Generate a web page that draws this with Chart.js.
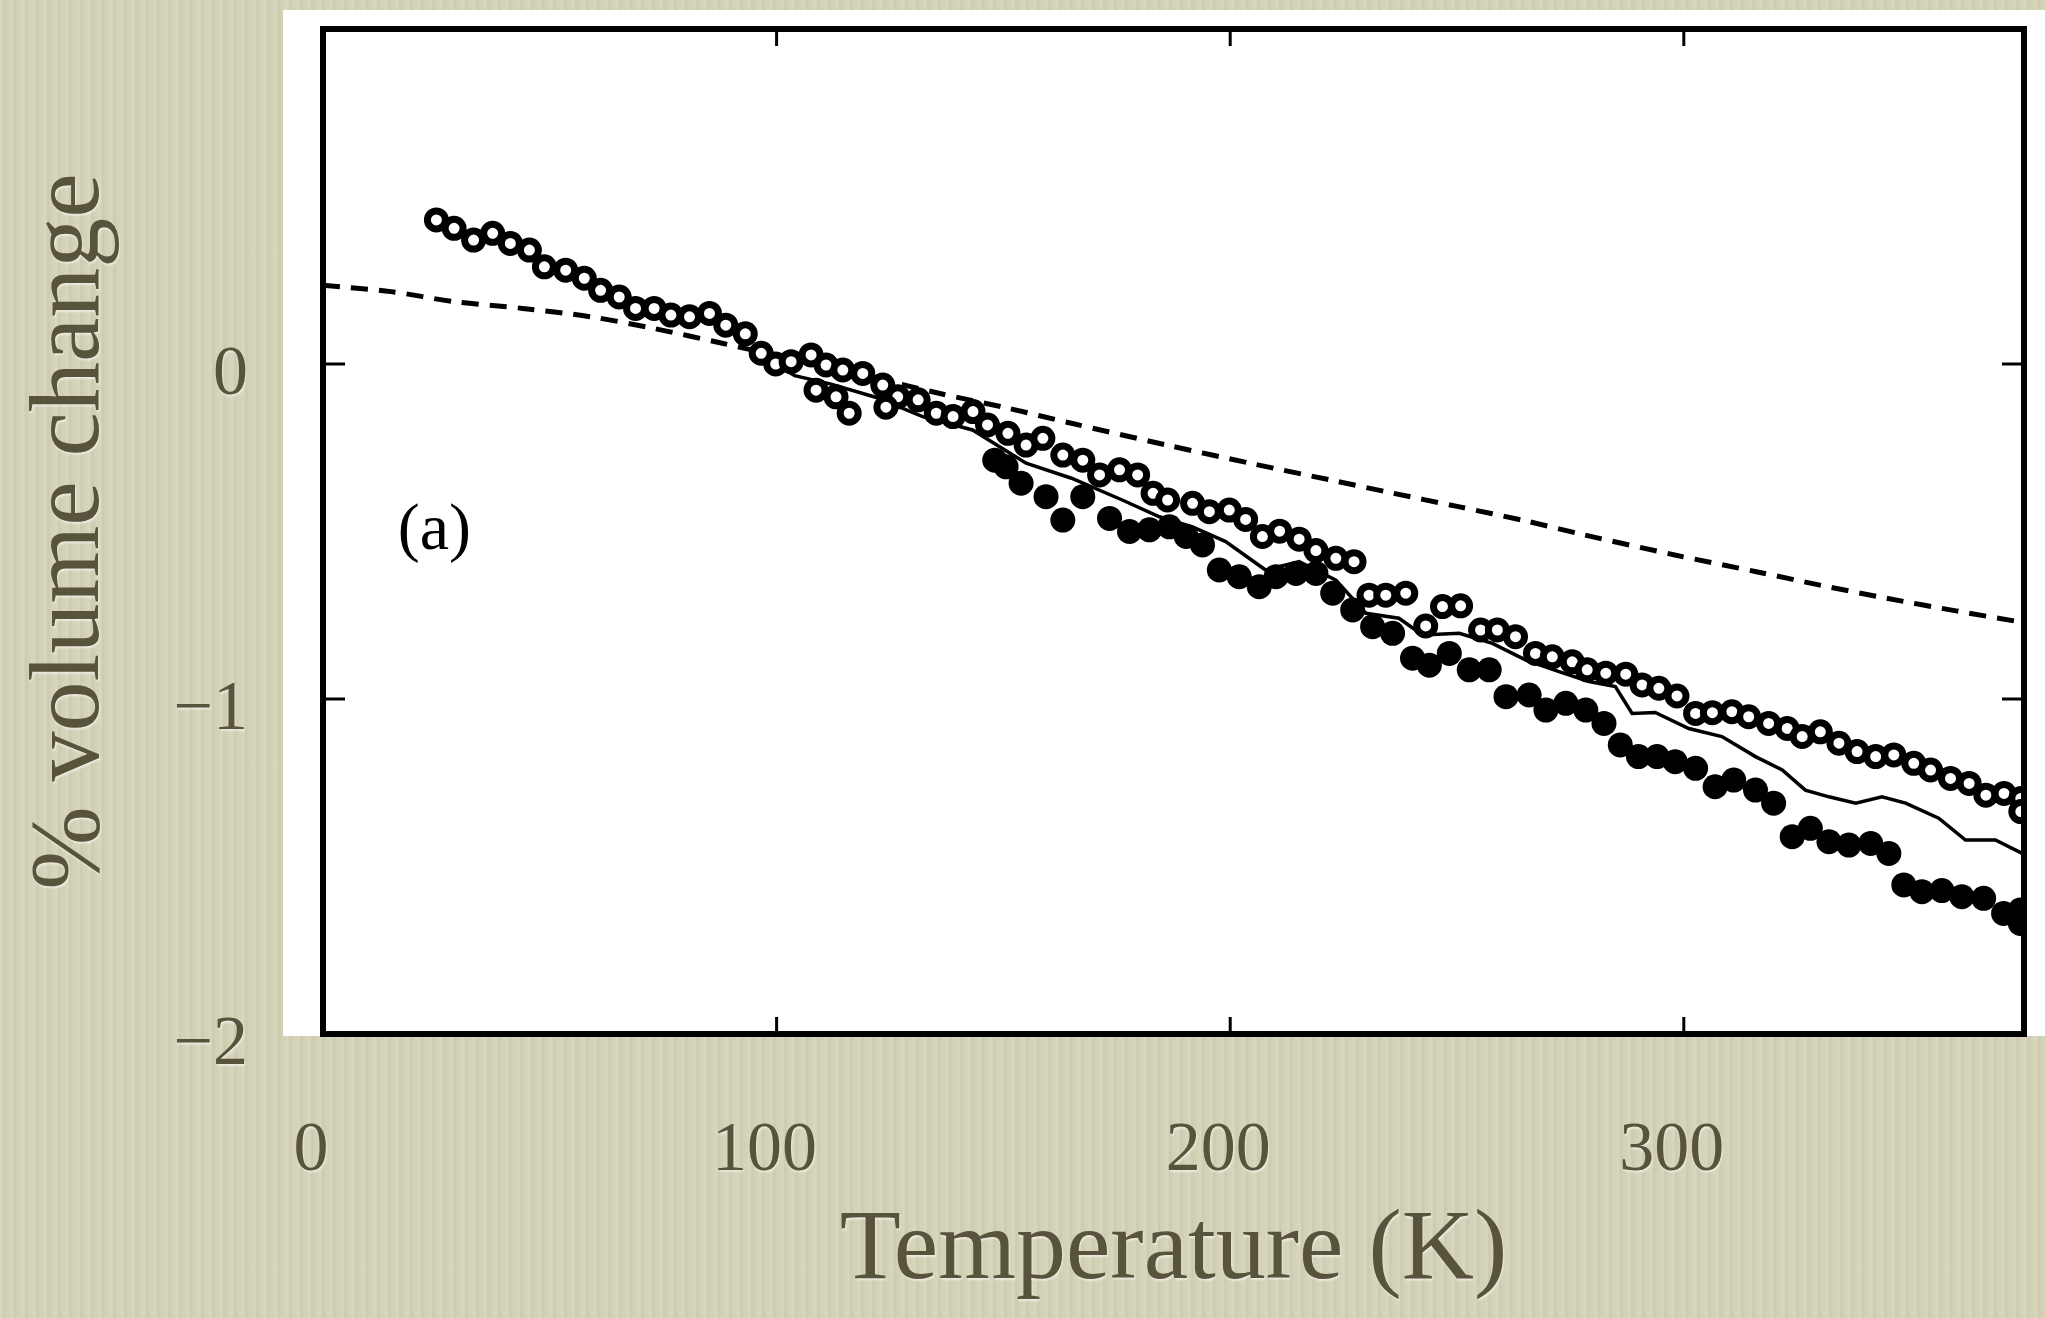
<!DOCTYPE html>
<html>
<head>
<meta charset="utf-8">
<script src="https://cdn.jsdelivr.net/npm/chart.js@4.4.1/dist/chart.umd.min.js"></script>
<style>
	html, body { margin: 0; padding: 0; }
	body {
		width: 2045px;
		height: 1318px;
		overflow: hidden;
		background-color: #d3d2b6;
		background-image: repeating-linear-gradient(90deg, rgba(255,255,255,0.10) 0px, rgba(255,255,255,0.10) 2px, rgba(0,0,0,0.035) 4px, rgba(0,0,0,0) 7px, rgba(255,255,255,0.06) 11px);
	}
	canvas { display: block; }
</style>
</head>
<body>
<canvas id="cntx_volume" width="2045" height="1318"></canvas>
<script>
// open circles
const tempOpen = [25, 28.9, 33.2, 37.4, 41.3, 45.5, 48.8, 53.5, 57.6, 61.2, 65.3, 68.9, 73, 76.7, 80.8, 85.2, 88.8, 93.1,
	96.6, 99.8, 103.2, 107.6, 110.9, 114.6, 119, 123.4, 126.7, 131.2, 135.2, 138.9, 143.3, 146.5, 151, 155, 158.7, 163.1,
	167.5, 171.2, 175.6, 179.6, 183, 186.2, 191.7, 195.4, 199.8, 203.4, 207.1, 210.9, 215.2, 218.9, 223.3, 227.3, 230.6,
	234.3, 238.7, 243.1, 246.8, 250.8, 255.2, 258.9, 262.9, 267.3, 271, 275.4, 278.7, 282.8, 287.2, 290.8, 294.5, 298.5,
	302.6, 306.3, 310.6, 314.3, 318.7, 322.8, 326.1, 330.1, 334.2, 338.2, 342.3, 346.3, 350.7, 354.4, 358.8, 362.9, 366.6,
	370.6, 374.3, 374.3,
	108.7, 113.1, 116, 124.1];
const volOpen = [0.43, 0.405, 0.37, 0.39, 0.36, 0.34, 0.29, 0.28, 0.256, 0.22, 0.2, 0.166, 0.166, 0.146, 0.141, 0.151, 0.116, 0.09,
	0.032, 0.0, 0.007, 0.027, -0.003, -0.018, -0.028, -0.063, -0.098, -0.107, -0.147, -0.157, -0.142, -0.182, -0.207, -0.242, -0.222, -0.272,
	-0.287, -0.331, -0.316, -0.331, -0.386, -0.406, -0.416, -0.441, -0.436, -0.464, -0.515, -0.499, -0.523, -0.557, -0.58, -0.59, -0.69,
	-0.69, -0.684, -0.782, -0.724, -0.722, -0.794, -0.794, -0.814, -0.864, -0.874, -0.889, -0.913, -0.923, -0.926, -0.958, -0.968, -0.991,
	-1.043, -1.041, -1.038, -1.053, -1.073, -1.088, -1.112, -1.098, -1.132, -1.157, -1.172, -1.167, -1.192, -1.212, -1.237, -1.252, -1.287,
	-1.282, -1.297, -1.336,
	-0.078, -0.098, -0.147, -0.129];

// filled circles
const tempFilled = [148.1, 150.6, 153.9, 159.4, 163.1, 167.5, 173.4, 177.8, 182.2, 186.6, 190.3, 193.9, 197.6, 202, 206.4, 210.1,
	214.5, 218.9, 222.6, 227, 231.4, 235.8, 240.2, 243.9, 248.3, 252.7, 257.1, 260.8, 265.9, 269.6, 274, 278.4, 282.4, 286, 290,
	294.1, 298.1, 302.6, 306.9, 311, 315.8, 319.8, 323.9, 327.9, 332, 336.4, 341.2, 345.2, 348.5, 352.5, 356.9, 361.3, 366.1,
	370.5, 374.2, 374.2];
const volFilled = [-0.287, -0.307, -0.356, -0.396, -0.466, -0.396, -0.461, -0.5, -0.495, -0.486, -0.515, -0.54, -0.615, -0.635, -0.665, -0.635,
	-0.625, -0.625, -0.684, -0.734, -0.784, -0.804, -0.878, -0.899, -0.864, -0.913, -0.913, -0.993, -0.988, -1.033, -1.013, -1.033, -1.073, -1.137, -1.172,
	-1.172, -1.187, -1.207, -1.262, -1.242, -1.272, -1.311, -1.411, -1.386, -1.426, -1.436, -1.431, -1.461, -1.555, -1.575, -1.572, -1.59, -1.595,
	-1.64, -1.63, -1.67];

// solid line
const tempSolid = [97, 104, 112, 122, 132.2, 143.2, 155, 165, 176.2, 184.4, 191.7, 199, 207.8, 215.2, 223.3, 229.9, 237.2, 242.4,
	250.5, 257.8, 265.2, 272.5, 279.1, 284.9, 288.6, 293.7, 301.1, 308.4, 315.8, 321.7, 326.8, 332, 337.9, 343.7, 348.9, 356.2,
	362.1, 368.7, 374.6];
const volSolid = [0.02, -0.035, -0.06, -0.1, -0.157, -0.197, -0.296, -0.341, -0.406, -0.456, -0.486, -0.53, -0.615, -0.59, -0.645, -0.744, -0.759, -0.809,
	-0.804, -0.834, -0.884, -0.918, -0.948, -0.963, -1.043, -1.04, -1.088, -1.112, -1.172, -1.212, -1.272, -1.292, -1.311, -1.292, -1.311, -1.356,
	-1.421, -1.421, -1.461];

// dashed line
const tempDashed = [0, 15, 29, 44, 59, 73, 88, 100, 118, 136, 151, 165, 186, 205, 222, 236, 250, 265, 278, 298, 316, 330, 345, 360, 375];
const volDashed = [0.235, 0.216, 0.186, 0.166, 0.141, 0.106, 0.062, 0.025, -0.03, -0.088, -0.132, -0.177, -0.242, -0.298, -0.346, -0.386,
	-0.425, -0.468, -0.51, -0.57, -0.62, -0.66, -0.7, -0.737, -0.772];

const xTickValues = [0, 100, 200, 300];
const yTickValues = [-2, -1, 0, 1];

const textColor = "#58533b";
const serif = "'Liberation Serif', 'DejaVu Serif', serif";

toPoints = (xs, ys) => xs.map((x, i) => ({ x: x, y: ys[i] }));

const framePlugin = {
	id: "frame",
	beforeDraw: (chart) => {
		const { ctx, chartArea } = chart;
		ctx.save();
		ctx.fillStyle = "#ffffff";
		ctx.fillRect(chartArea.left - 40, chartArea.top - 19, chart.width - chartArea.left + 40, chartArea.bottom - chartArea.top + 21);
		ctx.restore();
		// soft light shadow under the slide text
		ctx.shadowColor = "rgba(255,255,255,0.55)";
		ctx.shadowOffsetX = 1;
		ctx.shadowOffsetY = 2;
		ctx.shadowBlur = 2;
	},
	beforeDatasetsDraw: (chart) => {
		const ctx = chart.ctx;
		ctx.shadowColor = "rgba(0,0,0,0)";
		ctx.shadowOffsetX = 0;
		ctx.shadowOffsetY = 0;
		ctx.shadowBlur = 0;
	},
	afterDatasetsDraw: (chart) => {
		const { ctx, chartArea } = chart;
		const xs = chart.scales.x;
		const ys = chart.scales.y;
		ctx.save();
		ctx.strokeStyle = "#000000";
		ctx.lineWidth = 3;
		ctx.beginPath();
		xs.ticks.forEach((t) => {
			if (t.value <= xs.min || t.value >= xs.max) return;
			const px = xs.getPixelForValue(t.value);
			ctx.moveTo(px, chartArea.bottom);
			ctx.lineTo(px, chartArea.bottom - 17);
			ctx.moveTo(px, chartArea.top);
			ctx.lineTo(px, chartArea.top + 17);
		});
		ys.ticks.forEach((t) => {
			if (t.value <= ys.min || t.value >= ys.max) return;
			const py = ys.getPixelForValue(t.value);
			ctx.moveTo(chartArea.left, py);
			ctx.lineTo(chartArea.left + 22, py);
			ctx.moveTo(chartArea.right, py);
			ctx.lineTo(chartArea.right - 22, py);
		});
		ctx.stroke();
		ctx.lineWidth = 6;
		ctx.strokeRect(chartArea.left, chartArea.top, chartArea.right - chartArea.left, chartArea.bottom - chartArea.top);

		ctx.fillStyle = "#000000";
		ctx.font = "66px " + serif;
		ctx.textAlign = "left";
		ctx.textBaseline = "middle";
		ctx.fillText("(a)", xs.getPixelForValue(16.5), ys.getPixelForValue(-0.5));
		ctx.restore();
	},
};

drawChart = (canvas) => {
	const myChart = new Chart(canvas, {
		type: "scatter",
		data: {
			datasets: [
				{
					label: "open",
					data: toPoints(tempOpen, volOpen),
					pointStyle: "circle",
					radius: 9,
					borderWidth: 7,
					backgroundColor: "#ffffff",
					borderColor: "#000000",
					showLine: false,
				},
				{
					label: "solid",
					data: toPoints(tempSolid, volSolid),
					showLine: true,
					borderColor: "#000000",
					borderWidth: 3.5,
					pointRadius: 0,
					tension: 0,
				},
				{
					label: "filled",
					data: toPoints(tempFilled, volFilled),
					pointStyle: "circle",
					radius: 12.5,
					borderWidth: 0,
					backgroundColor: "#000000",
					borderColor: "#000000",
					showLine: false,
				},
				{
					label: "dashed",
					data: toPoints(tempDashed, volDashed),
					showLine: true,
					borderColor: "#000000",
					borderWidth: 5,
					borderDash: [17, 11],
					pointRadius: 0,
					tension: 0.3,
				},
			],
		},
		options: {
			responsive: false,
			animation: false,
			devicePixelRatio: 1,
			layout: { padding: { top: 29, right: 21, left: 0, bottom: 0 } },
			plugins: {
				legend: { display: false },
				tooltip: { enabled: false },
			},
			scales: {
				x: {
					type: "linear",
					min: 0,
					max: 375,
					grid: { display: false, drawTicks: false },
					border: { display: false },
					afterBuildTicks: (scale) => {
						scale.ticks = xTickValues.map((v) => ({ value: v }));
					},
					ticks: {
						padding: 76,
						labelOffset: -12,
						maxRotation: 0,
						autoSkip: false,
						color: textColor,
						font: { family: serif, size: 70 },
					},
					title: {
						display: true,
						text: "Temperature (K)",
						color: textColor,
						font: { family: serif, size: 100 },
						padding: { top: 0, bottom: 6 },
					},
					afterFit: (scale) => {
						scale.height = 1318 - 1034;
						scale.paddingLeft = 0;
						scale.paddingRight = 0;
					},
				},
				y: {
					type: "linear",
					min: -2,
					max: 1,
					grid: { display: false, drawTicks: false },
					border: { display: false },
					afterBuildTicks: (scale) => {
						scale.ticks = yTickValues.map((v) => ({ value: v }));
					},
					ticks: {
						padding: 75,
						labelOffset: 12,
						color: textColor,
						font: { family: serif, size: 70 },
						callback: (v) => (v > 0 ? "" : v < 0 ? "\u2212" + Math.abs(v) : "0"),
					},
					title: {
						display: true,
						text: "% volume change",
						color: textColor,
						font: { family: serif, size: 100 },
						padding: { top: 12, bottom: 0 },
					},
					afterFit: (scale) => {
						scale.width = 323;
						scale.paddingTop = 0;
						scale.paddingBottom = 0;
					},
				},
			},
		},
		plugins: [framePlugin],
	});
};

drawChart(document.querySelector("#cntx_volume"));
</script>
</body>
</html>
